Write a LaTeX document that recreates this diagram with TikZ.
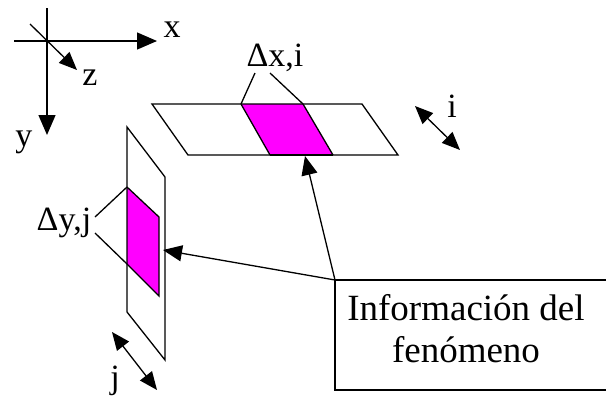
\documentclass[tikz,border=0pt]{standalone}
\usepackage{fontspec}
\setmainfont{Liberation Serif}
\usetikzlibrary{arrows.meta}
\begin{document}
\begin{tikzpicture}[x=1pt,y=-1pt,
  ln/.style={line width=1.3pt,black},
  arr/.style={ln,-{Triangle[length=20pt,width=17pt]}},
  darr/.style={ln,{Triangle[length=18pt,width=15pt]}-{Triangle[length=18pt,width=15pt]}},
  lbl/.style={anchor=base,inner sep=0pt,font=\fontsize{34}{40}\selectfont},
  boxtxt/.style={align=center,inner sep=0pt,font=\fontsize{37}{42}\selectfont},
  mag/.style={fill={rgb,255:red,255;green,0;blue,255}}]
\useasboundingbox (0,0) rectangle (606,397);
\clip (0,0) rectangle (606,397);
% axes
\coordinate (xs) at (14,41);
\coordinate (xe) at (157,41);
\coordinate (ys) at (47,8);
\coordinate (ye) at (47,135);
\coordinate (zs) at (30,24);
\coordinate (ze) at (77,70);
\draw[arr] (xs) -- (xe);
\draw[arr] (ys) -- (ye);
\draw[ln,-{Triangle[length=18pt,width=15pt]}] (zs) -- (ze);
\node[lbl] (lx) at (172,37) {x};
\node[lbl] (lz) at (90,85) {z};
\node[lbl] (ly) at (24,146) {y};
% horizontal plane
\fill[mag] (241,104) -- (303,104) -- (333,155) -- (270,155) -- cycle;
\draw[ln] (152,104) -- (362,104) -- (398,155) -- (188,155) -- cycle;
\draw[ln] (241,104) -- (270,155);
\draw[ln] (303,104) -- (333,155);
\draw[line width=2.2pt] (270,155) -- (333,155);
\node[lbl] (ldx) at (275,66) {Δx,i};
\coordinate (dxa) at (255,73);
\coordinate (dxb) at (270,73);
\draw[ln] (dxa) -- (241,104);
\draw[ln] (dxb) -- (303,104);
% i arrow
\coordinate (ia) at (415,106);
\coordinate (ib) at (460,150);
\draw[darr] (ia) -- (ib);
\node[lbl] (li) at (452,117) {i};
% vertical plane
\fill[mag] (127,187) -- (159,217) -- (159,296) -- (127,264) -- cycle;
\draw[ln] (127,127) -- (165,177) -- (165,360) -- (127,312) -- cycle;
\draw[ln] (127,187) -- (159,217) -- (159,296) -- (127,264);
\node[lbl] (ldy) at (64,230) {Δy,j};
\coordinate (dya) at (95,217);
\coordinate (dyb) at (95,233);
\draw[ln] (dya) -- (127,187);
\draw[ln] (dyb) -- (127,264);
% j arrow
\coordinate (ja) at (112,332);
\coordinate (jb) at (157,390);
\draw[darr] (ja) -- (jb);
\node[lbl] (lj) at (115,388) {j};
% info box
\coordinate (corner) at (335,280);
\draw[ln] (612,280) -- (corner) -- (335,390) -- (612,390);
\node[boxtxt] (info) at (466,329) {Información del\\fenómeno};
\coordinate (ta) at (305,156);
\coordinate (tb) at (163,250);
\draw[arr,-{Triangle[length=19pt,width=16pt]}] (corner) -- (ta);
\draw[arr,-{Triangle[length=19pt,width=16pt]}] (corner) -- (tb);
\end{tikzpicture}
\end{document}
